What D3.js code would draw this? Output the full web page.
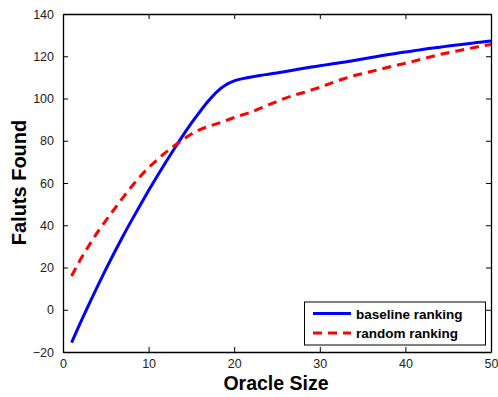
<!DOCTYPE html>
<html>
<head>
<meta charset="utf-8">
<script src="https://cdn.jsdelivr.net/npm/d3@7"></script>
<style>
  body { margin: 0; background: #fff; }
  svg text { font-family: Arial, "Liberation Sans", Helvetica, sans-serif; }
</style>
</head>
<body>
<svg id="chart" width="498" height="397"></svg>
<script>
// Oracle size (x) vs faults found
const oracleSize = d3.range(1, 51);
const baselineRanking = [
    -15.6, -6.5, 2.3, 10.8, 19.1, 27.1, 34.8, 42.2, 49.4, 56.4,
    63.2, 69.8, 76.2, 82.4, 88.3, 93.8, 98.9, 103.3, 106.4, 108.3,
    109.4, 110.2, 110.9, 111.5, 112.1, 112.8, 113.5, 114.2, 114.9, 115.5,
    116.1, 116.7, 117.3, 118, 118.7, 119.4, 120.1, 120.8, 121.4, 122,
    122.6, 123.2, 123.8, 124.3, 124.8, 125.3, 125.8, 126.3, 126.8, 127.2
];
const randomRanking = [
    16, 23.5, 30.2, 36.5, 42.2, 47.7, 53.1, 58.2, 63, 67.3,
    71, 74.5, 77.6, 80.5, 83.2, 85.3, 86.8, 88.1, 89.5, 91,
    92.3, 93.6, 95.3, 97, 98.6, 100.2, 101.5, 102.7, 104, 105.3,
    106.8, 108.3, 109.6, 110.8, 111.8, 112.8, 113.8, 114.8, 115.8, 116.7,
    117.7, 118.8, 119.8, 120.8, 121.7, 122.5, 123.3, 124.1, 124.9, 125.6
];
const xTicks = [0, 10, 20, 30, 40, 50];
const yTicks = [-20, 0, 20, 40, 60, 80, 100, 120, 140];

const series = [
    { name: 'baseline ranking', values: baselineRanking, color: '#0000ff', dash: null },
    { name: 'random ranking', values: randomRanking, color: '#ff0000', dash: '9,6' }
];

const margin = { left: 63, top: 14, right: 7, bottom: 45 };
const width = 498, height = 397;

const svg = d3.select('#chart');

const x = d3.scaleLinear().domain([0, 50]).range([margin.left, width - margin.right]);
const y = d3.scaleLinear().domain([-20, 140]).range([height - margin.bottom, margin.top]);

// Lines
const line = d3.line()
    .x((d, i) => x(oracleSize[i]))
    .y(d => y(d))
    .curve(d3.curveMonotoneX);

svg.append('g')
    .selectAll('path')
    .data(series)
    .enter().append('path')
    .attr('d', d => line(d.values))
    .attr('fill', 'none')
    .attr('stroke', d => d.color)
    .attr('stroke-width', 3)
    .attr('stroke-dasharray', d => d.dash || 'none');

// Axes (ticks inward on all four sides)
const axisStyle = g => {
    g.selectAll('.domain').attr('stroke', '#000').attr('stroke-width', 1.3);
    g.selectAll('.tick line').attr('stroke', '#000').attr('stroke-width', 1);
    g.selectAll('text').attr('font-size', '12.5px').attr('fill', '#222');
};

svg.append('g')
    .attr('transform', `translate(0,${y(-20)})`)
    .call(d3.axisBottom(x).tickValues(xTicks).tickSizeInner(-5).tickSizeOuter(0).tickPadding(7))
    .call(axisStyle);

svg.append('g')
    .attr('transform', `translate(0,${y(140)})`)
    .call(d3.axisTop(x).tickValues(xTicks).tickSizeInner(-5).tickSizeOuter(0).tickFormat(''))
    .call(axisStyle);

svg.append('g')
    .attr('transform', `translate(${x(0)},0)`)
    .call(d3.axisLeft(y).tickValues(yTicks).tickSizeInner(-5).tickSizeOuter(0).tickPadding(9)
        .tickFormat(d => d < 0 ? '\u2212' + Math.abs(d) : d))
    .call(axisStyle);

svg.append('g')
    .attr('transform', `translate(${x(50)},0)`)
    .call(d3.axisRight(y).tickValues(yTicks).tickSizeInner(-5).tickSizeOuter(0).tickFormat(''))
    .call(axisStyle);

// Axis titles
svg.append('text')
    .attr('x', 276)
    .attr('y', 390)
    .attr('text-anchor', 'middle')
    .attr('font-size', '19.5px')
    .attr('font-weight', 'bold')
    .text('Oracle Size');

svg.append('text')
    .attr('transform', `translate(26,182.5) rotate(-90)`)
    .attr('text-anchor', 'middle')
    .attr('font-size', '20px')
    .attr('font-weight', 'bold')
    .text('Faluts Found');

// Legend
const legend = svg.append('g');
legend.append('rect')
    .attr('x', 304.5).attr('y', 302)
    .attr('width', 181).attr('height', 43)
    .attr('fill', '#fff')
    .attr('stroke', '#000')
    .attr('stroke-width', 1);

const item = legend.selectAll('g.item')
    .data(series)
    .enter().append('g')
    .attr('class', 'item')
    .attr('transform', (d, i) => `translate(0,${313.5 + i * 19.5})`);

item.append('line')
    .attr('x1', 313).attr('x2', 351)
    .attr('stroke', d => d.color)
    .attr('stroke-width', 3)
    .attr('stroke-dasharray', d => d.dash || 'none');

item.append('text')
    .attr('x', 356)
    .attr('y', 5)
    .attr('font-size', '13.5px')
    .attr('font-weight', 'bold')
    .text(d => d.name);
</script>
</body>
</html>
